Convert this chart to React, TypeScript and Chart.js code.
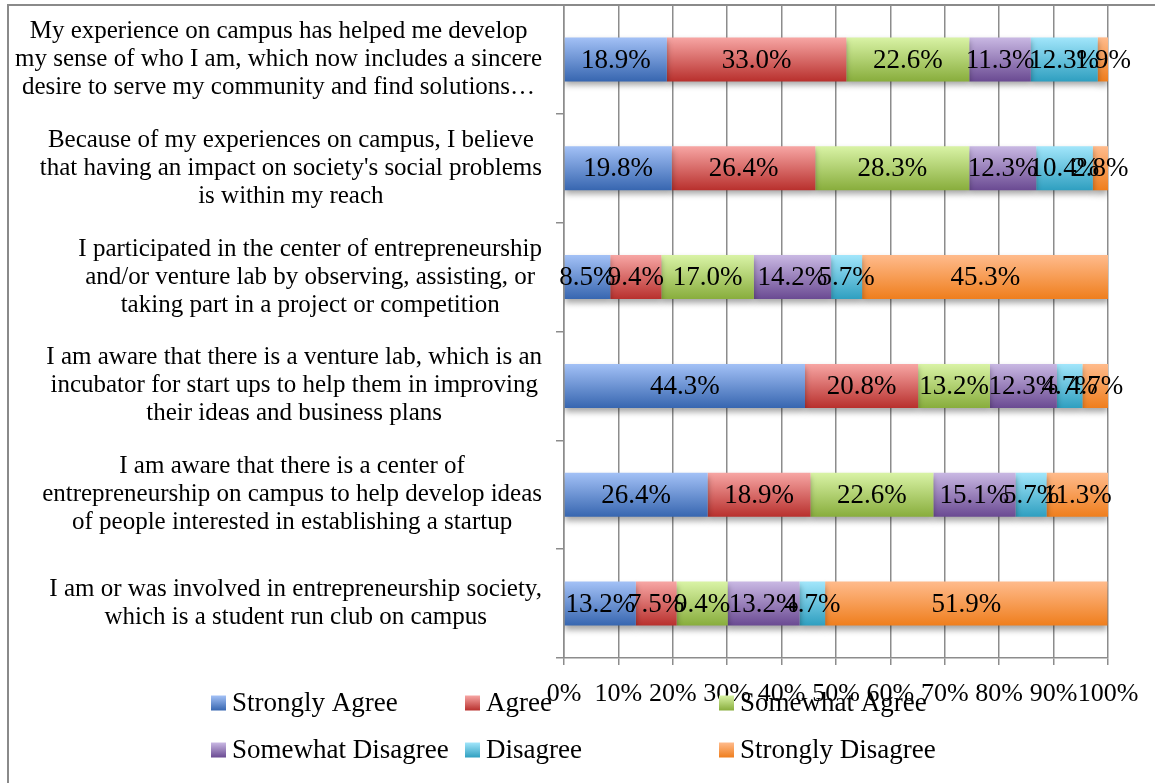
import React, { useEffect, useRef } from "react";
import { Chart, registerables } from "chart.js";

Chart.register(...registerables);

// ---------- data ----------
const categories: string[][] = [
  [
    "My experience on campus has helped me develop",
    "my sense of who I am, which now includes a sincere",
    "desire to serve my community and find solutions…",
  ],
  [
    "Because of my experiences on campus, I believe",
    "that having an impact on society's social problems",
    "is within my reach",
  ],
  [
    "I participated in the center of entrepreneurship",
    "and/or venture lab by observing, assisting, or",
    "taking part in a project or competition",
  ],
  [
    "I am aware that there is a venture lab, which is an",
    "incubator for start ups to help them in improving",
    "their ideas and business plans",
  ],
  [
    "I am aware that there is a center of",
    "entrepreneurship on campus to help develop ideas",
    "of people interested in establishing a startup",
  ],
  [
    "I am or was involved in entrepreneurship society,",
    "which is a student run club on campus",
  ],
];

const seriesNames = [
  "Strongly Agree",
  "Agree",
  "Somewhat Agree",
  "Somewhat Disagree",
  "Disagree",
  "Strongly Disagree",
];

const stronglyAgree = [18.9, 19.8, 8.5, 44.3, 26.4, 13.2];
const agree = [33.0, 26.4, 9.4, 20.8, 18.9, 7.5];
const somewhatAgree = [22.6, 28.3, 17.0, 13.2, 22.6, 9.4];
const somewhatDisagree = [11.3, 12.3, 14.2, 12.3, 15.1, 13.2];
const disagree = [12.3, 10.4, 5.7, 4.7, 5.7, 4.7];
const stronglyDisagree = [1.9, 2.8, 45.3, 4.7, 11.3, 51.9];

const seriesValues = [
  stronglyAgree,
  agree,
  somewhatAgree,
  somewhatDisagree,
  disagree,
  stronglyDisagree,
];

const xMin = 0;
const xMax = 100;
const xStep = 10;

// ---------- styles ----------
const lightColors = ["#A3C1F6", "#F7A6A4", "#D9F3A6", "#C9B8E3", "#A2E6FB", "#FFBB8C"];
const darkColors = ["#3766B0", "#B8302D", "#88AD3C", "#6A4A92", "#2F9FC0", "#EF7E1D"];
const FONT = "'Liberation Serif', 'Times New Roman', serif";
const GRID = "#8c8c8c";
const BAR_PCT = 0.405;

function barGradient(c: any, i: number) {
  const chart = c.chart;
  const ys = chart.scales && chart.scales.y;
  if (!ys || typeof c.dataIndex !== "number") return darkColors[i];
  const center = ys.getPixelForValue(c.dataIndex);
  const band = Math.abs(ys.getPixelForValue(1) - ys.getPixelForValue(0));
  const h = band * BAR_PCT;
  if (!isFinite(center) || !isFinite(h) || h <= 0) return darkColors[i];
  const g = chart.ctx.createLinearGradient(0, center - h / 2, 0, center + h / 2);
  g.addColorStop(0, lightColors[i]);
  g.addColorStop(1, darkColors[i]);
  return g;
}

const framePlugin = {
  id: "frame",
  beforeDraw(chart: any) {
    const ctx = chart.ctx;
    ctx.save();
    ctx.fillStyle = "#ffffff";
    ctx.fillRect(0, 0, chart.width, chart.height);
    ctx.strokeStyle = "#8a8a8a";
    ctx.lineWidth = 2;
    ctx.beginPath();
    ctx.moveTo(8, chart.height + 5);
    ctx.lineTo(8, 5);
    ctx.lineTo(chart.width + 5, 5);
    ctx.stroke();
    ctx.restore();
  },
};

const shadowPlugin = {
  id: "barShadow",
  beforeDatasetsDraw(chart: any) {
    const ctx = chart.ctx;
    ctx.save();
    ctx.shadowColor = "rgba(0,0,0,0.35)";
    ctx.shadowBlur = 6;
    ctx.shadowOffsetX = 0;
    ctx.shadowOffsetY = 4;
  },
  afterDatasetsDraw(chart: any) {
    chart.ctx.restore();
  },
};

const labelPlugin = {
  id: "valueLabels",
  afterDatasetsDraw(chart: any) {
    const ctx = chart.ctx;
    ctx.save();
    ctx.font = `27px ${FONT}`;
    ctx.fillStyle = "#000000";
    ctx.textAlign = "center";
    ctx.textBaseline = "middle";
    chart.data.datasets.forEach((ds: any, i: number) => {
      const meta = chart.getDatasetMeta(i);
      meta.data.forEach((el: any, j: number) => {
        const p = el.getCenterPoint();
        ctx.fillText(`${Number(ds.data[j]).toFixed(1)}%`, p.x, p.y + 1);
      });
    });
    ctx.restore();
  },
};

const LEG_COLS = [211, 465, 719];
const LEG_ROWS = [703, 750];

const legendPlugin = {
  id: "gridLegend",
  afterDraw(chart: any) {
    const ctx = chart.ctx;
    ctx.save();
    ctx.font = `27px ${FONT}`;
    ctx.textAlign = "left";
    ctx.textBaseline = "middle";
    seriesNames.forEach((name, i) => {
      const x = LEG_COLS[i % 3];
      const y = LEG_ROWS[Math.floor(i / 3)];
      const g = ctx.createLinearGradient(0, y - 7.5, 0, y + 7.5);
      g.addColorStop(0, lightColors[i]);
      g.addColorStop(1, darkColors[i]);
      ctx.fillStyle = g;
      ctx.fillRect(x, y - 7.5, 15, 15);
      ctx.fillStyle = "#000000";
      ctx.fillText(name, x + 21, y + 1);
    });
    ctx.restore();
  },
};

function patchYLabels(scale: any) {
  if (scale.__patched) return;
  scale.__patched = true;
  const orig = scale.getLabelItems;
  scale.getLabelItems = function (chartArea: any) {
    const items = orig.call(this, chartArea);
    const ctx = this.ctx;
    items.forEach((it: any) => {
      if (it.__adj) return;
      const lines = Array.isArray(it.label) ? it.label : [it.label];
      ctx.save();
      ctx.font = it.font.string;
      const w = Math.max(...lines.map((l: string) => ctx.measureText(l).width));
      ctx.restore();
      const [tx, ty] = it.options.translation;
      it.options.translation = [tx - w / 2, ty];
      it.options.textAlign = "center";
      it.__adj = true;
    });
    return items;
  };
}

export default function App() {
  const canvasRef = useRef<HTMLCanvasElement | null>(null);

  useEffect(() => {
    const canvas = canvasRef.current;
    if (!canvas) return;
    const chart = new Chart(canvas, {
      type: "bar",
      data: {
        labels: categories,
        datasets: seriesValues.map((vals, i) => ({
          label: seriesNames[i],
          data: vals,
          backgroundColor: (c: any) => barGradient(c, i),
          borderWidth: 0,
          barPercentage: BAR_PCT,
          categoryPercentage: 1,
        })),
      },
      options: {
        indexAxis: "y",
        responsive: false,
        animation: false,
        events: [],
        layout: { padding: { top: 5, right: 47, bottom: 0, left: 0 } },
        plugins: {
          legend: { display: false },
          tooltip: { enabled: false },
          title: { display: false },
        },
        scales: {
          x: {
            type: "linear",
            position: "bottom",
            stacked: true,
            min: xMin,
            max: xMax,
            ticks: {
              stepSize: xStep,
              autoSkip: false,
              maxRotation: 0,
              minRotation: 0,
              padding: 14,
              color: "#000000",
              font: { family: FONT, size: 26 },
              callback: (v: any) => `${v}%`,
            },
            grid: { color: GRID, lineWidth: 1.5, tickLength: 7, drawTicks: true },
            border: { color: GRID, width: 1.5 },
            afterFit: (s: any) => {
              s.height = 125;
              s.paddingLeft = 0;
              s.paddingRight = 0;
            },
          },
          y: {
            type: "category",
            position: "left",
            stacked: true,
            offset: true,
            ticks: {
              autoSkip: false,
              crossAlign: "near",
              padding: 14,
              color: "#000000",
              font: { family: FONT, size: 25, lineHeight: 1.12 },
            },
            grid: {
              drawOnChartArea: false,
              drawTicks: true,
              tickLength: 8,
              color: GRID,
              lineWidth: 1.5,
              offset: true,
            },
            border: { color: GRID, width: 1.5 },
            afterFit: (s: any) => {
              s.width = 564;
              s.paddingTop = 0;
              s.paddingBottom = 0;
              patchYLabels(s);
            },
          },
        },
      },
      plugins: [framePlugin, shadowPlugin, labelPlugin, legendPlugin],
    } as any);
    return () => chart.destroy();
  }, []);

  return (
    <div
      style={{
        position: "absolute",
        left: 0,
        top: 0,
        width: 1155,
        height: 783,
        background: "#ffffff",
      }}
    >
      <canvas ref={canvasRef} width={1155} height={783} style={{ display: "block" }} />
    </div>
  );
}
